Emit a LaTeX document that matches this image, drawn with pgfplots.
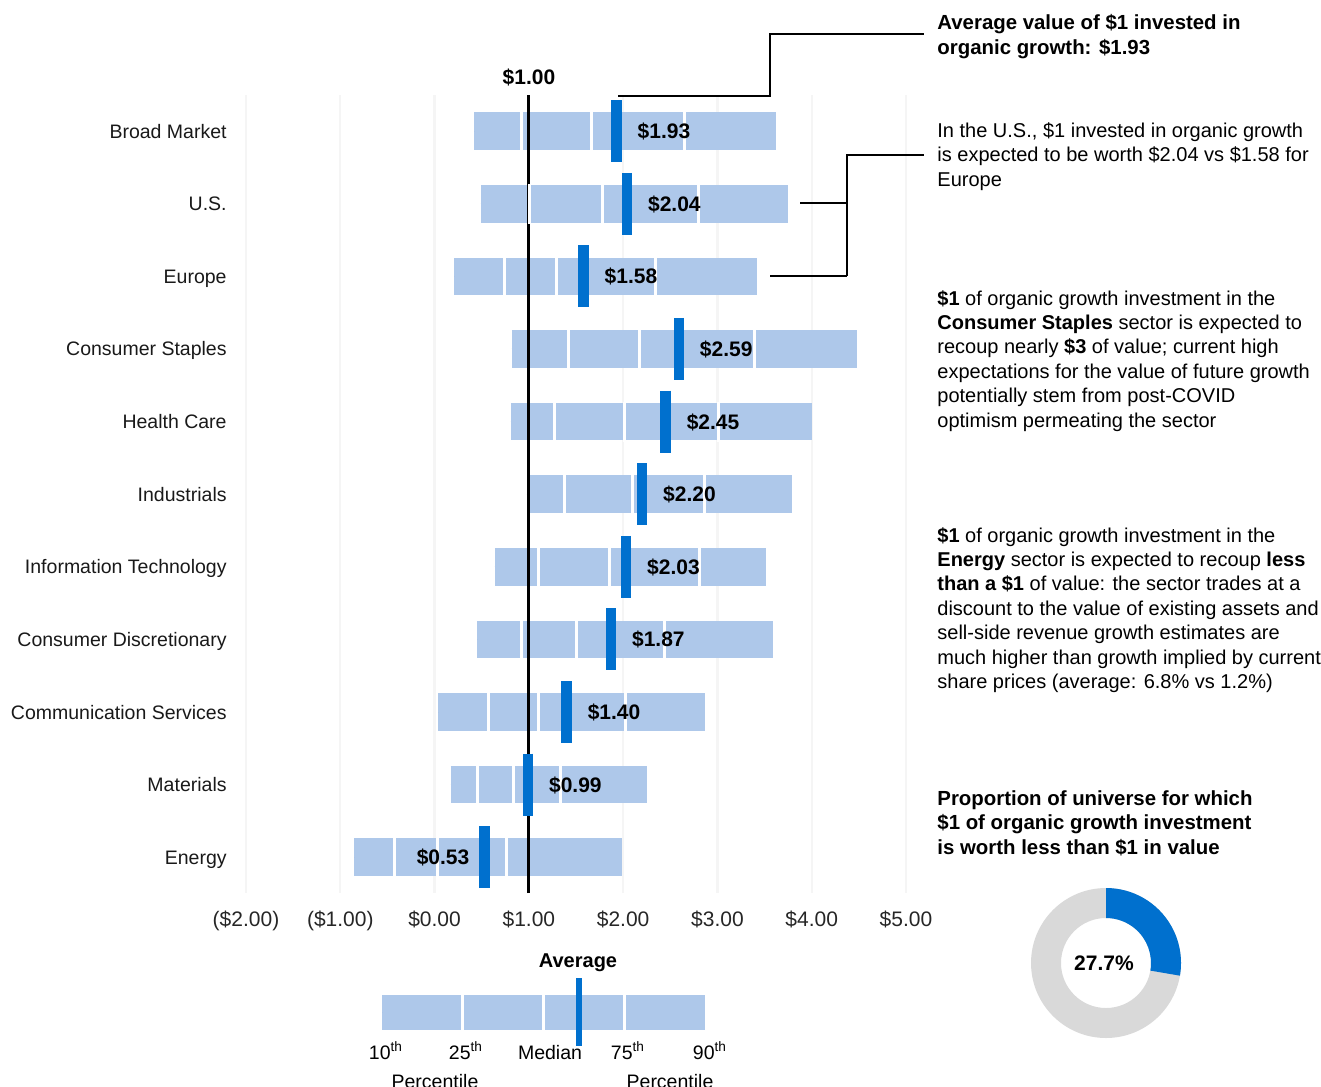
\documentclass[border=0pt]{standalone}
\usepackage{fontspec}
\setmainfont{Liberation Sans}
\usepackage{pgfplots}
\pgfplotsset{compat=1.18}
\usepackage{pgfplotstable}

\definecolor{barblue}{HTML}{AEC8EA}
\definecolor{avgblue}{HTML}{0070CE}
\definecolor{gridgray}{HTML}{F5F5F5}
\definecolor{ringgray}{HTML}{D9D9D9}

% Value of $1 of organic growth investment: percentiles and average per sector
\pgfplotstableread{
y  p10    p25    med    p75    p90    avg
10  0.42   0.92   1.66   2.65   3.62   1.93
9   0.49   1.01   1.78   2.80   3.75   2.04
8   0.21   0.74   1.29   2.34   3.42   1.58
7   0.82   1.42   2.17   3.39   4.48   2.59
6   0.81   1.27   2.01   3.01   4.00   2.45
5   0.98   1.38   2.10   2.86   3.79   2.20
4   0.64   1.10   1.85   2.81   3.51   2.03
3   0.45   0.92   1.50   2.44   3.59   1.87
2   0.04   0.57   1.10   2.03   2.87   1.40
1   0.17   0.45   0.84   1.34   2.25   0.99
0  -0.85  -0.43   0.03   0.76   1.99   0.53
}\sectors

% Schematic key bar drawn below the axis
\pgfplotstableread{
y       p10     p25    med    p75    p90    avg
-2.132  -0.555  0.294  1.157  2.019  2.868  1.531
}\keybar

% Share of the universe worth less than $1
\def\share{27.7}

\pgfplotsset{
  rangebar/.style={
    only marks, mark size=0pt, mark options={draw=none, fill=none},
    error bars/.cd, x dir=plus, x explicit, error mark=none,
    error bar style={draw=barblue, line width=#1},
  },
  valuelabel/.style={
    only marks, mark=|, mark size=15.5pt,
    mark options={draw=avgblue, line width=5.2pt},
    point meta=x,
    nodes near coords={\$\pgfmathprintnumber[fixed,fixed zerofill,precision=2,assume math mode=true]{\pgfplotspointmeta}},
  },
}

\begin{document}
\begin{tikzpicture}[x=0.5pt, y=-0.5pt]
\useasboundingbox (0,0) rectangle (1321,1086);

\begin{axis}[
  at={(123pt,-446.5pt)}, anchor=south west,
  scale only axis, width=330pt, height=399pt,
  xmin=-2, xmax=5, ymin=-0.493, ymax=10.498,
  clip=false,
  axis line style={draw=none}, tick style={draw=none},
  xtick={-2,...,5},
  xticklabels={{(\$2.00)},{(\$1.00)},{\$0.00},{\$1.00},{\$2.00},{\$3.00},{\$4.00},{\$5.00}},
  xticklabel style={anchor=base, inner sep=0pt, yshift=-16.75pt,
    font=\fontsize{10.5}{12}\selectfont, text=black!85},
  ytick={0,...,10},
  yticklabels={Energy, Materials, Communication Services, Consumer Discretionary,
    Information Technology, Industrials, Health Care, Consumer Staples,
    Europe, U.S., Broad Market},
  yticklabel style={anchor=east, inner sep=0pt, xshift=-9.5pt,
    text height=7pt, text depth=0pt, font=\fontsize{9.75}{12}\selectfont, text=black!90},
  xmajorgrids, grid style={gridgray, line width=1.2pt},
  nodes near coords style={inner sep=0pt, text height=7.5pt, text depth=0pt,
    font=\fontsize{10.5}{12}\selectfont\bfseries},
]

% 10th to 90th percentile range
\addplot[rangebar=18.8pt]
  table[x=p10, y=y, x error expr=\thisrow{p90}-\thisrow{p10}] {\sectors};

% quartile and median breaks
\foreach \c in {p25,med,p75} {
  \addplot[only marks, mark=|, mark size=10pt,
    mark options={draw=white, line width=1.5pt}]
    table[x=\c, y=y] {\sectors};
}

% $1.00 break-even line
\addplot[black, line width=1.4pt] coordinates {(1,-0.493) (1,10.498)};

% averages with their values
\addplot[valuelabel, restrict y to domain=0.5:11,
  nodes near coords style={anchor=west, xshift=8pt}]
  table[x=avg, y=y] {\sectors};
\addplot[valuelabel, restrict y to domain=-0.5:0.5,
  nodes near coords style={anchor=east, xshift=-5pt}]
  table[x=avg, y=y] {\sectors};

% key bar
\addplot[rangebar=17.5pt]
  table[x=p10, y=y, x error expr=\thisrow{p90}-\thisrow{p10}] {\keybar};
\foreach \c in {p25,med,p75} {
  \addplot[only marks, mark=|, mark size=9.5pt,
    mark options={draw=white, line width=1.5pt}]
    table[x=\c, y=y] {\keybar};
}
\addplot[only marks, mark=|, mark size=17pt,
  mark options={draw=avgblue, line width=3pt}]
  table[x=avg, y=y] {\keybar};
\end{axis}

% break-even label
\node[anchor=base, inner sep=0pt, font=\fontsize{10.5}{12}\selectfont\bfseries]
  at (529,84) {\$1.00};

% key labels
\node[anchor=base, inner sep=0pt, font=\fontsize{10}{12}\selectfont\bfseries]
  at (578,967) {Average};
\begin{scope}[every node/.style={anchor=base, inner sep=0pt, font=\fontsize{9.75}{12}\selectfont}]
  \node at (386,1059) {10\textsuperscript{th}};
  \node at (466,1059) {25\textsuperscript{th}};
  \node at (550,1059) {Median};
  \node at (628,1059) {75\textsuperscript{th}};
  \node at (710,1059) {90\textsuperscript{th}};
  \node at (435,1088) {Percentile};
  \node at (670,1088) {Percentile};
\end{scope}

% callout leaders
\draw[line width=0.8pt] (618,96) -- (770,96) -- (770,34) -- (924,34);
\draw[line width=0.8pt] (800,203) -- (847,203);
\draw[line width=0.8pt] (770,276) -- (847,276);
\draw[line width=0.8pt] (847,276) -- (847,155) -- (924,155);

% callout texts
\node[anchor=base west, inner sep=0pt] at (937,30)
  {\parbox[t]{240pt}{\raggedright\fontsize{10.2}{12.25}\selectfont\bfseries
   Average value of \$1 invested in\\
   organic growth: \$1.93}};

\node[anchor=base west, inner sep=0pt] at (937,137.5)
  {\parbox[t]{240pt}{\raggedright\fontsize{10}{12.25}\selectfont
   In the U.S., \$1 invested in organic growth\\
   is expected to be worth \$2.04 vs \$1.58 for\\
   Europe}};

\node[anchor=base west, inner sep=0pt] at (937,305)
  {\parbox[t]{240pt}{\raggedright\fontsize{10}{12.2}\selectfont
   \textbf{\$1} of organic growth investment in the\\
   \textbf{Consumer Staples} sector is expected to\\
   recoup nearly \textbf{\$3} of value; current high\\
   expectations for the value of future growth\\
   potentially stem from post-COVID\\
   optimism permeating the sector}};

\node[anchor=base west, inner sep=0pt] at (937,542)
  {\parbox[t]{240pt}{\raggedright\fontsize{10}{12.2}\selectfont
   \textbf{\$1} of organic growth investment in the\\
   \textbf{Energy} sector is expected to recoup \textbf{less}\\
   \textbf{than a \$1} of value: the sector trades at a\\
   discount to the value of existing assets and\\
   sell-side revenue growth estimates are\\
   much higher than growth implied by current\\
   share prices (average: 6.8\% vs 1.2\%)}};

\node[anchor=base west, inner sep=0pt] at (937,805)
  {\parbox[t]{240pt}{\raggedright\fontsize{10.2}{12.25}\selectfont\bfseries
   Proportion of universe for which\\
   \$1 of organic growth investment\\
   is worth less than \$1 in value}};

% donut of the share worth less than $1
\pgfmathsetmacro\sweep{360*\share/100}
\begin{scope}[shift={(1106,963)}]
  \fill[ringgray, even odd rule] (0,0) circle[radius=75] (0,0) circle[radius=45];
  \fill[avgblue] (-90:75) arc[start angle=-90, delta angle=\sweep, radius=75]
    -- (-90+\sweep:45) arc[start angle=-90+\sweep, delta angle=-\sweep, radius=45] -- cycle;
  \node[inner sep=0pt, font=\fontsize{10.5}{12}\selectfont\bfseries] at (-2,0) {\share\%};
\end{scope}
\end{tikzpicture}
\end{document}
